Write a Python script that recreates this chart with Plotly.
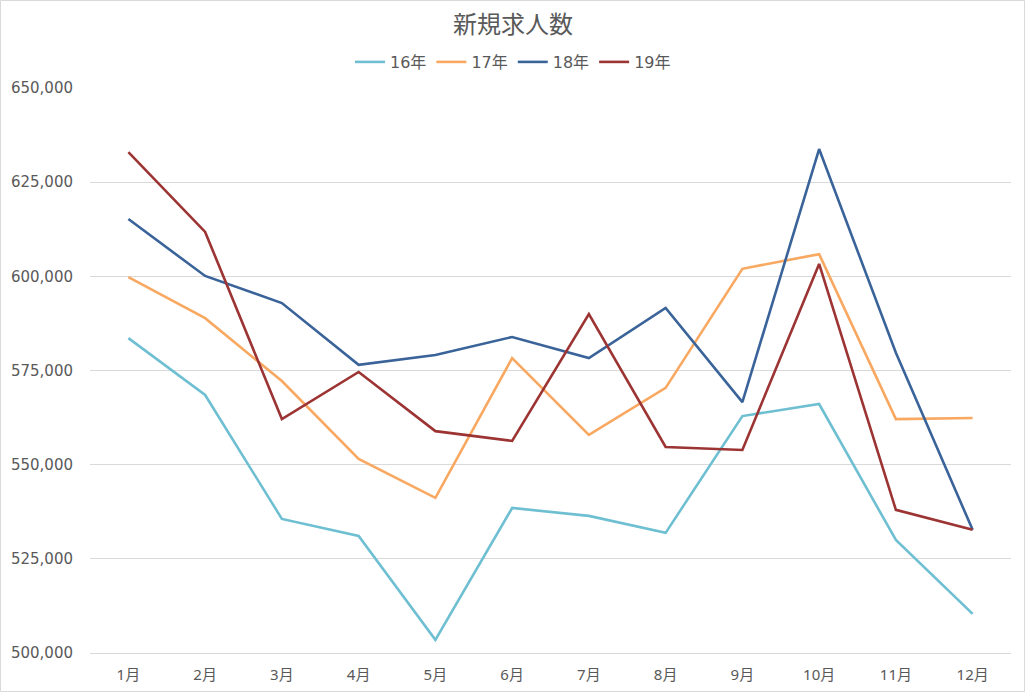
import plotly.graph_objects as go

months = ["1月", "2月", "3月", "4月", "5月", "6月", "7月", "8月", "9月", "10月", "11月", "12月"]
y16 = [583600, 568500, 535600, 531100, 503500, 538500, 536400, 531900, 562900, 566100, 530000, 510400]
y17 = [599800, 588900, 572200, 551500, 541200, 578300, 557900, 570400, 602000, 605900, 562100, 562400]
y18 = [615200, 600100, 592900, 576500, 579100, 583900, 578300, 591600, 566600, 633800, 579700, 532700]
y19 = [633000, 611800, 562100, 574600, 558900, 556300, 590000, 554700, 553900, 603300, 538000, 532700]
series_names = ["16年", "17年", "18年", "19年"]
colors = ["#6EBFD2", "#F8A861", "#3A6399", "#9C3434"]

fig = go.Figure()
for name, vals, col in zip(series_names, [y16, y17, y18, y19], colors):
    fig.add_trace(go.Scatter(x=months, y=vals, name=name, mode="lines",
                             line=dict(color=col, width=2.6)))

W, H = 1026, 693
L, R, T, B = 90, 15, 88, 40
pw, ph = W - L - R, H - T - B

def px(x):
    return (x - L) / pw

def py(y):
    return (H - B - y) / ph

fig.update_layout(
    width=W, height=H,
    margin=dict(l=L, r=R, t=T, b=B, autoexpand=False),
    paper_bgcolor="white", plot_bgcolor="white",
    font=dict(family="DejaVu Sans, Noto Sans CJK JP, sans-serif", color="#595959", size=14),
    title=dict(text="新規求人数", x=0.5, xanchor="center", y=1 - 25 / H, yanchor="middle",
               font=dict(family="Noto Sans CJK JP, sans-serif", size=24, color="#595959")),
    legend=dict(orientation="h", x=px(W / 2), xanchor="center",
                y=py(62), yanchor="middle",
                font=dict(size=16, color="#595959"), itemwidth=30, tracegroupgap=0),
    showlegend=True,
    xaxis=dict(showgrid=False, showline=True, linecolor="#D9D9D9", linewidth=1,
               range=[-0.5, 11.5], ticks="", ticklabelstandoff=8, tickangle=0,
               tickfont=dict(family="Noto Sans, Noto Sans CJK JP, sans-serif", size=15, color="#595959")),
    yaxis=dict(range=[500000, 650000], dtick=25000, tickformat=",d",
               showgrid=True, gridcolor="#D9D9D9", gridwidth=1, zeroline=False,
               showline=False, ticks="", ticklabelstandoff=16,
               tickfont=dict(size=15, color="#595959")),
    shapes=[dict(type="rect", xref="paper", yref="paper",
                 x0=px(0.5), x1=px(1024.5), y0=py(691.5), y1=py(0.5),
                 line=dict(color="#D9D9D9", width=1), layer="below")],
)

fig.write_html("out.html", config={"displayModeBar": False},
               post_script="document.body.style.margin='0px';document.body.style.overflow='hidden';"
                           "document.documentElement.style.overflow='hidden';"
                           "document.body.style.height='693px';")
